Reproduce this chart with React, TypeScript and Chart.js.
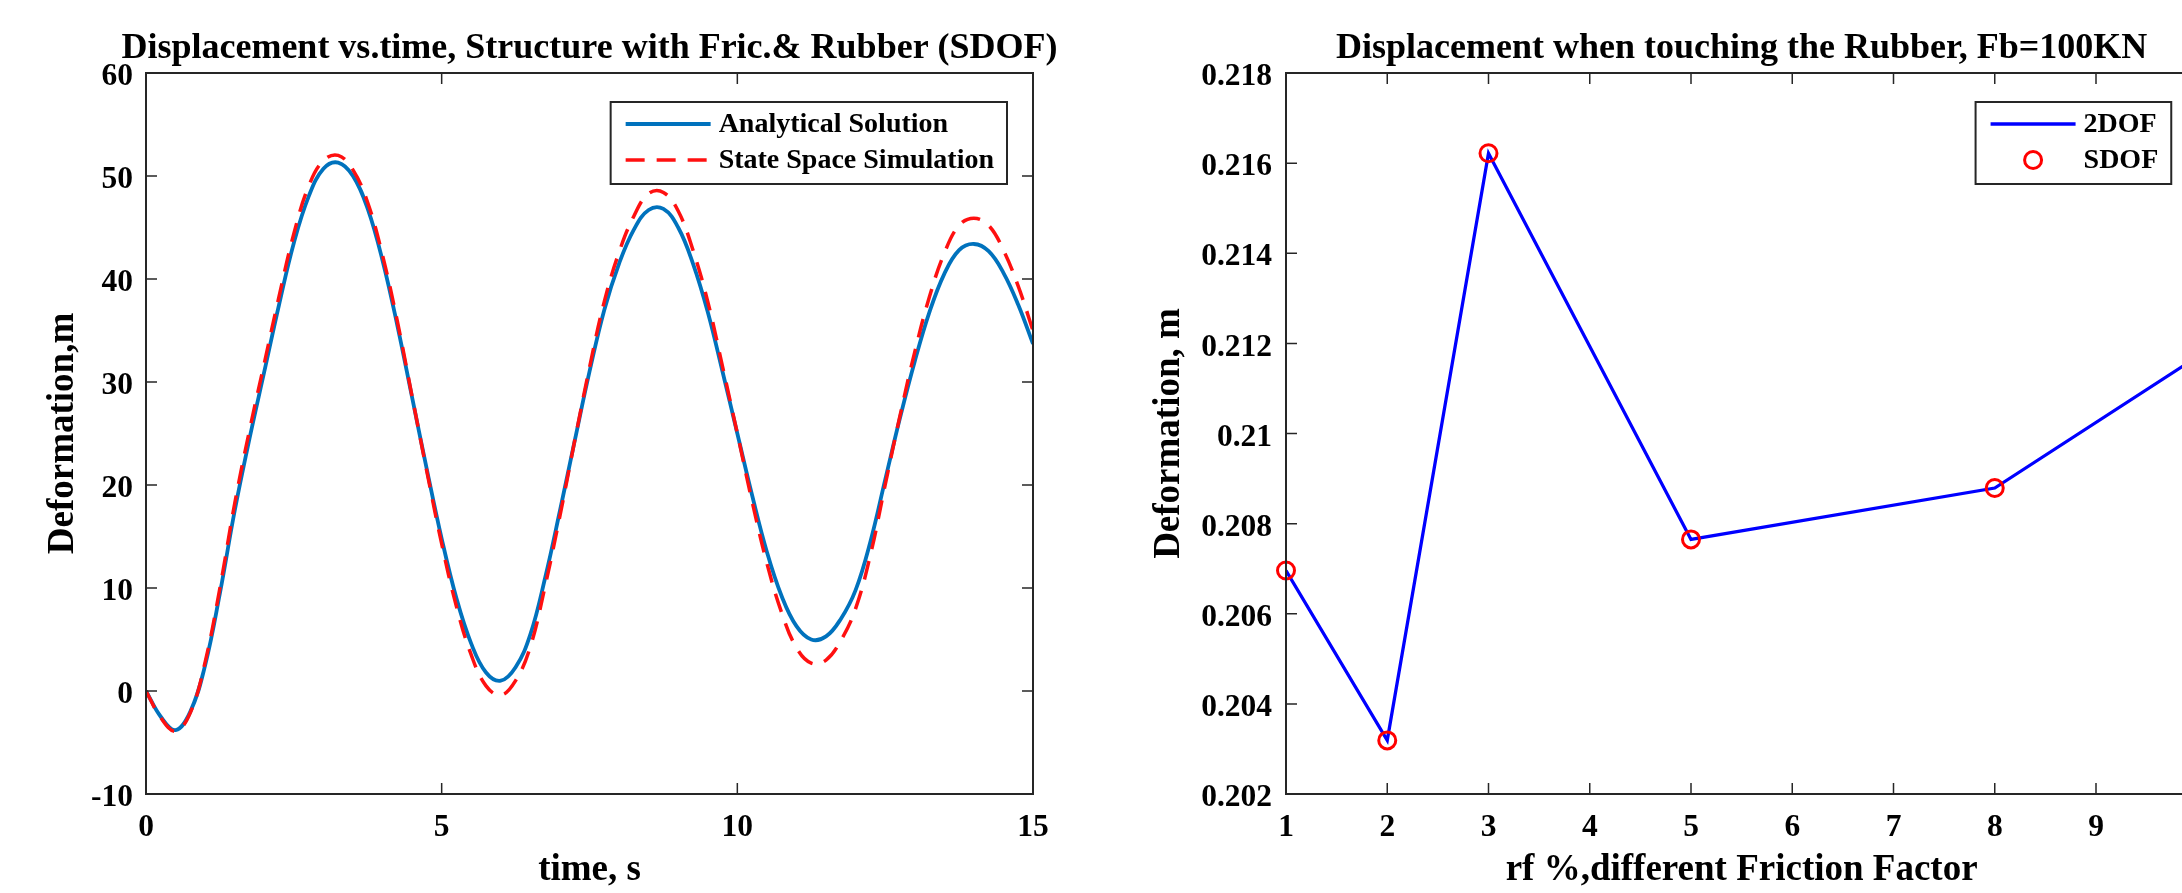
import React, { useEffect, useRef } from 'react';
import { Chart, registerables } from 'chart.js';

Chart.register(...registerables);

// ---------- Left plot data: displacement vs time ----------
const timeS = [
  0, 0.25, 0.5, 0.75, 1, 1.25, 1.5, 1.75, 2, 2.25, 2.5, 2.75, 3, 3.25, 3.5, 3.75,
  4, 4.25, 4.5, 4.75, 5, 5.25, 5.5, 5.75, 6, 6.25, 6.5, 6.75, 7, 7.25, 7.5, 7.75,
  8, 8.25, 8.5, 8.75, 9, 9.25, 9.5, 9.75, 10, 10.25, 10.5, 10.75, 11, 11.25, 11.5, 11.75,
  12, 12.25, 12.5, 12.75, 13, 13.25, 13.5, 13.75, 14, 14.25, 14.5, 14.75, 15,
];
const analyticalSolution = [
  0, -2.5, -3.8, -2.0, 2.5, 9.5, 17.5, 24.5, 31.0, 37.5, 43.5, 48.0, 50.7, 51.3, 50.0, 46.8,
  41.8, 35.5, 28.5, 21.5, 14.8, 9.0, 4.6, 1.8, 1.0, 2.3, 5.5, 11.0, 17.5, 24.3, 31.0, 37.0,
  41.5, 44.8, 46.7, 46.8, 45.0, 41.5, 36.8, 31.0, 25.0, 19.0, 13.5, 9.2, 6.3, 5.0, 5.3, 7.0,
  9.8, 14.5, 20.5, 26.5, 32.0, 36.8, 40.5, 42.8, 43.4, 42.7, 40.6, 37.5, 33.7,
];
const stateSpaceSimulation = [
  0, -2.6, -3.9, -2.1, 2.8, 10.0, 18.2, 25.3, 31.8, 38.3, 44.4, 49.0, 51.5, 52.0, 50.6, 47.4,
  42.3, 35.9, 28.6, 21.3, 14.3, 8.2, 3.5, 0.5, -0.4, 1.0, 4.3, 10.2, 17.0, 24.3, 31.4, 37.8,
  42.6, 46.1, 48.3, 48.4, 46.6, 42.8, 37.8, 31.5, 25.0, 18.4, 12.4, 7.6, 4.2, 2.7, 3.0, 4.9,
  8.0, 13.2, 20.0, 26.7, 32.9, 38.3, 42.5, 45.2, 45.9, 45.2, 42.8, 39.3, 35.0,
];

// ---------- Right plot data: displacement vs friction factor ----------
const rfPercent = [1, 2, 3, 5, 8, 10];
const twoDofDeformation = [0.20696, 0.20319, 0.21622, 0.20765, 0.20879, 0.2117];
const sdofDeformation = [0.20696, 0.20319, 0.21622, 0.20765, 0.20879, 0.2117];

const leftTitle = 'Displacement vs.time, Structure with Fric.& Rubber (SDOF)';
const rightTitle = 'Displacement when touching the Rubber, Fb=100KN';

const SERIF = '"Liberation Serif", "Times New Roman", Times, serif';
const AXIS_COLOR = '#262626';

const frameTicksPlugin = {
  id: 'frameTicks',
  afterDatasetsDraw(chart: any) {
    const { ctx, chartArea: a, scales } = chart;
    const L = 11;
    ctx.save();
    ctx.strokeStyle = AXIS_COLOR;
    ctx.lineWidth = 1.5;
    ctx.beginPath();
    scales.x.ticks.forEach((t: any) => {
      const px = scales.x.getPixelForValue(t.value);
      ctx.moveTo(px, a.bottom);
      ctx.lineTo(px, a.bottom - L);
      ctx.moveTo(px, a.top);
      ctx.lineTo(px, a.top + L);
    });
    scales.y.ticks.forEach((t: any) => {
      const py = scales.y.getPixelForValue(t.value);
      ctx.moveTo(a.left, py);
      ctx.lineTo(a.left + L, py);
      ctx.moveTo(a.right, py);
      ctx.lineTo(a.right - L, py);
    });
    ctx.stroke();
    ctx.lineWidth = 2;
    ctx.strokeRect(a.left, a.top, a.right - a.left, a.bottom - a.top);
    ctx.restore();
  },
};

// Title centred over the plot area (MATLAB style), baseline just above the box.
const axesTitlePlugin = {
  id: 'axesTitle',
  afterDraw(chart: any, _args: any, opts: any) {
    if (!opts || !opts.text) return;
    const { ctx, chartArea: a } = chart;
    ctx.save();
    ctx.font = `bold ${opts.fontSize}px ${SERIF}`;
    ctx.fillStyle = '#000000';
    ctx.textAlign = 'center';
    ctx.textBaseline = 'alphabetic';
    ctx.fillText(opts.text, (a.left + a.right) / 2, a.top - opts.gap);
    ctx.restore();
  },
};

const boxLegendPlugin = {
  id: 'boxLegend',
  afterDraw(chart: any, _args: any, opts: any) {
    if (!opts || !opts.display) return;
    const { ctx, chartArea: a } = chart;
    const datasets = chart.data.datasets;
    ctx.save();
    ctx.font = `bold ${opts.fontSize}px ${SERIF}`;
    let textW = 0;
    datasets.forEach((d: any) => {
      textW = Math.max(textW, ctx.measureText(d.label).width);
    });
    const padL = 15, sampleLen = 85, gap = 8, padR = 13;
    const w = padL + sampleLen + gap + textW + padR;
    const h = 82;
    const x1 = a.right - 26;
    const x0 = x1 - w;
    const y0 = a.top + 29;
    ctx.fillStyle = '#ffffff';
    ctx.fillRect(x0, y0, w, h);
    ctx.strokeStyle = AXIS_COLOR;
    ctx.lineWidth = 2;
    ctx.strokeRect(x0, y0, w, h);
    datasets.forEach((d: any, i: number) => {
      const cy = y0 + 22 + i * 36;
      const sx0 = x0 + padL;
      const sx1 = sx0 + sampleLen;
      if (d.showLine !== false) {
        ctx.strokeStyle = d.borderColor;
        ctx.lineWidth = d.borderWidth;
        ctx.setLineDash(d.borderDash || []);
        ctx.beginPath();
        ctx.moveTo(sx0, cy);
        ctx.lineTo(sx1, cy);
        ctx.stroke();
        ctx.setLineDash([]);
      } else {
        ctx.strokeStyle = d.pointBorderColor;
        ctx.lineWidth = d.pointBorderWidth;
        ctx.beginPath();
        ctx.arc((sx0 + sx1) / 2, cy, d.pointRadius, 0, Math.PI * 2);
        ctx.stroke();
      }
      ctx.fillStyle = '#000000';
      ctx.textAlign = 'left';
      ctx.textBaseline = 'middle';
      ctx.fillText(d.label, sx1 + gap, cy + 1);
    });
    ctx.restore();
  },
};

function serifFont(size: number) {
  return { family: SERIF, weight: 'bold' as const, size, lineHeight: 1.2 };
}

const TICK_SIZE = 31.5;
const LABEL_SIZE = 37;

function makeLeftConfig(): any {
  return {
    type: 'line',
    data: {
      datasets: [
        {
          label: 'Analytical Solution',
          data: timeS.map((t, i) => ({ x: t, y: analyticalSolution[i] })),
          borderColor: '#0072BD',
          borderWidth: 3.8,
          pointRadius: 0,
          tension: 0.4,
          fill: false,
          order: 1,
        },
        {
          label: 'State Space Simulation',
          data: timeS.map((t, i) => ({ x: t, y: stateSpaceSimulation[i] })),
          borderColor: '#FF1010',
          borderWidth: 3.5,
          borderDash: [19, 12],
          pointRadius: 0,
          tension: 0.4,
          fill: false,
          order: 0,
        },
      ],
    },
    options: {
      responsive: false,
      animation: false,
      events: [],
      layout: { padding: { left: 0, right: 67, top: 73, bottom: 0 } },
      plugins: {
        legend: { display: false },
        tooltip: { enabled: false },
        title: { display: false },
        axesTitle: { text: leftTitle, fontSize: 36, gap: 15 },
        boxLegend: { display: true, fontSize: 28 },
      },
      scales: {
        x: {
          type: 'linear',
          min: 0,
          max: 15,
          grid: { display: false, drawTicks: false },
          border: { display: false },
          ticks: { stepSize: 5, color: '#000', font: serifFont(TICK_SIZE), padding: 15, maxRotation: 0, autoSkip: false },
          title: { display: true, text: 'time, s', color: '#000', font: serifFont(LABEL_SIZE), padding: { top: 0, bottom: 0 } },
          afterFit: (s: any) => { s.height = 99; },
        },
        y: {
          type: 'linear',
          min: -10,
          max: 60,
          grid: { display: false, drawTicks: false },
          border: { display: false },
          ticks: { stepSize: 10, color: '#000', font: serifFont(TICK_SIZE), padding: 13, labelOffset: 4 },
          title: { display: true, text: 'Deformation,m', color: '#000', font: serifFont(LABEL_SIZE), padding: { top: 40.8, bottom: 0 } },
          afterFit: (s: any) => { s.width = 146; },
        },
      },
    },
    plugins: [frameTicksPlugin, axesTitlePlugin, boxLegendPlugin],
  };
}

function makeRightConfig(): any {
  return {
    type: 'line',
    data: {
      datasets: [
        {
          label: '2DOF',
          data: rfPercent.map((x, i) => ({ x, y: twoDofDeformation[i] })),
          borderColor: '#0000FF',
          borderWidth: 3.3,
          pointRadius: 0,
          tension: 0,
          fill: false,
          order: 1,
        },
        {
          label: 'SDOF',
          data: rfPercent.map((x, i) => ({ x, y: sdofDeformation[i] })),
          showLine: false,
          borderColor: '#FF0000',
          pointRadius: 8.5,
          pointBorderWidth: 3,
          pointBorderColor: '#FF0000',
          pointBackgroundColor: 'rgba(0,0,0,0)',
          clip: false,
          order: 0,
        },
      ],
    },
    options: {
      responsive: false,
      animation: false,
      events: [],
      layout: { padding: { left: 0, right: 67.75, top: 73, bottom: 0 } },
      plugins: {
        legend: { display: false },
        tooltip: { enabled: false },
        title: { display: false },
        axesTitle: { text: rightTitle, fontSize: 36, gap: 15 },
        boxLegend: { display: true, fontSize: 28 },
      },
      scales: {
        x: {
          type: 'linear',
          min: 1,
          max: 10,
          grid: { display: false, drawTicks: false },
          border: { display: false },
          ticks: { stepSize: 1, color: '#000', font: serifFont(TICK_SIZE), padding: 15, maxRotation: 0, autoSkip: false },
          title: { display: true, text: 'rf %,different Friction Factor', color: '#000', font: serifFont(LABEL_SIZE), padding: { top: 0, bottom: 0 } },
          afterFit: (s: any) => { s.height = 99; },
        },
        y: {
          type: 'linear',
          min: 0.202,
          max: 0.218,
          grid: { display: false, drawTicks: false },
          border: { display: false },
          ticks: {
            stepSize: 0.002,
            color: '#000',
            font: serifFont(TICK_SIZE),
            padding: 14,
            labelOffset: 4,
            callback: (v: any) => String(parseFloat(Number(v).toFixed(3))),
          },
          title: { display: true, text: 'Deformation, m', color: '#000', font: serifFont(LABEL_SIZE), padding: { top: 46.8, bottom: 0 } },
          afterFit: (s: any) => { s.width = 186; },
        },
      },
    },
    plugins: [frameTicksPlugin, axesTitlePlugin, boxLegendPlugin],
  };
}

function ChartCanvas({ makeConfig, left, width }: { makeConfig: () => any; left: number; width: number }) {
  const ref = useRef<HTMLCanvasElement | null>(null);
  useEffect(() => {
    if (!ref.current) return;
    const chart = new Chart(ref.current, makeConfig());
    return () => chart.destroy();
  }, []);
  return (
    <canvas
      ref={ref}
      width={width}
      height={893}
      style={{ position: 'absolute', left, top: 0, width, height: 893 }}
    />
  );
}

export default function App() {
  return (
    <div
      style={{
        position: 'absolute',
        left: 0,
        top: 0,
        width: 2182,
        height: 893,
        overflow: 'hidden',
        background: '#ffffff',
      }}
    >
      <ChartCanvas makeConfig={makeLeftConfig} left={0} width={1100} />
      <ChartCanvas makeConfig={makeRightConfig} left={1100} width={1165} />
    </div>
  );
}
